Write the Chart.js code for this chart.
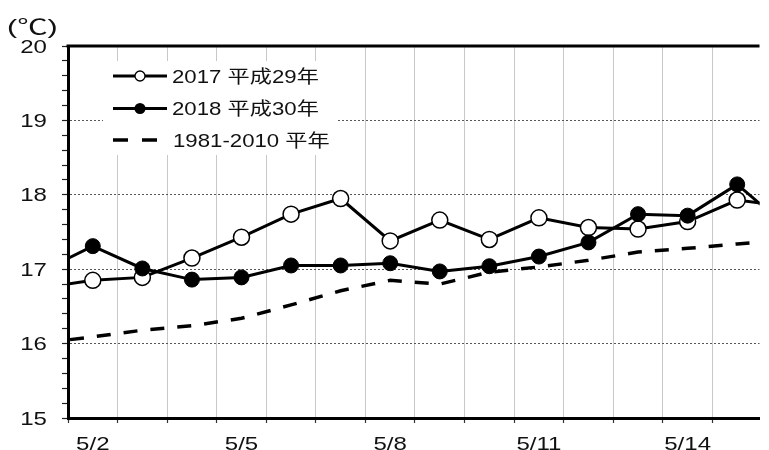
<!DOCTYPE html>
<html lang="ja">
<head>
<meta charset="UTF-8">
<title>日平均気温 5月</title>
<script src="https://cdn.jsdelivr.net/npm/chart.js"></script>
<style>
  html, body { margin: 0; padding: 0; background: #fff; }
  #wrap { position: relative; width: 769px; height: 450px; }
</style>
</head>
<body>
<div id="wrap"><canvas id="tempChart"></canvas></div>
<script>
// data (day of May)
const days = [1, 2, 3, 4, 5, 6, 7, 8, 9, 10, 11, 12, 13, 14, 15, 16];
const t2017 = [16.75, 16.85, 16.89, 17.15, 17.43, 17.74, 17.95, 17.38, 17.66, 17.40, 17.69, 17.56, 17.54, 17.64, 17.93, 17.84];
const t2018 = [16.98, 17.31, 17.01, 16.86, 16.89, 17.05, 17.05, 17.08, 16.97, 17.04, 17.17, 17.36, 17.74, 17.72, 18.14, 17.57];
const tNormal = [16.01, 16.09, 16.18, 16.24, 16.34, 16.52, 16.71, 16.85, 16.80, 16.96, 17.03, 17.12, 17.23, 17.28, 17.34, 17.39];
const xLabelDays = [2, 5, 8, 11, 14];
const yLabels = [15, 16, 17, 18, 19, 20];
const legendNames = ['2017 平成29年', '2018 平成30年', '1981-2010 平年'];
const unitLabel = '(℃)';

const FONT = "'Liberation Sans', Arial, 'Noto Sans CJK JP', sans-serif";

function toPoints(vals) {
    return days.map((d, i) => ({ x: d, y: vals[i] }));
}

// the original text is drawn wide, so stretch it sideways
function wideText(ctx, text, x, y, align, sx) {
    ctx.save();
    ctx.translate(x, y);
    ctx.scale(sx, 1);
    ctx.textAlign = align;
    ctx.textBaseline = 'alphabetic';
    ctx.fillText(text, 0, 0);
    ctx.restore();
}

const textPlugin = {
    id: 'textPlugin',
    afterDraw(chart) {
        const ctx = chart.ctx;
        const { left, right, top } = chart.chartArea;
        const xs = chart.scales.x, ys = chart.scales.y;

        // top frame line
        ctx.save();
        ctx.strokeStyle = '#000';
        ctx.lineWidth = 3;
        ctx.beginPath();
        ctx.moveTo(left - 1.5, top);
        ctx.lineTo(right, top);
        ctx.stroke();

        // axis labels
        ctx.fillStyle = '#111';
        ctx.font = '18.5px ' + FONT;
        yLabels.forEach(v => wideText(ctx, String(v), 47, ys.getPixelForValue(v) + 6.6, 'right', 1.3));
        xLabelDays.forEach(d => wideText(ctx, '5/' + d, xs.getPixelForValue(d), 449.5, 'center', 1.3));
        ctx.font = '21px ' + FONT;
        wideText(ctx, unitLabel, 7, 34, 'left', 1.45);

        // legend
        ctx.fillStyle = '#fff';
        ctx.fillRect(103, 61, 235, 94);
        const rows = [76, 108.5, 140];
        ctx.strokeStyle = '#000';
        ctx.lineWidth = 3;
        for (let i = 0; i < 2; i++) {
            ctx.beginPath();
            ctx.moveTo(113, rows[i]);
            ctx.lineTo(167, rows[i]);
            ctx.stroke();
        }
        ctx.lineWidth = 1.3;
        ctx.beginPath();
        ctx.arc(140, rows[0], 5, 0, Math.PI * 2);
        ctx.fillStyle = '#fff';
        ctx.fill();
        ctx.stroke();
        ctx.beginPath();
        ctx.arc(140, rows[1], 5.5, 0, Math.PI * 2);
        ctx.fillStyle = '#000';
        ctx.fill();
        ctx.lineWidth = 3.5;
        ctx.setLineDash([15, 14]);
        ctx.beginPath();
        ctx.moveTo(113, rows[2]);
        ctx.lineTo(158, rows[2]);
        ctx.stroke();
        ctx.setLineDash([]);

        ctx.fillStyle = '#111';
        ctx.font = '18.5px ' + FONT;
        wideText(ctx, legendNames[0], 172, 83, 'left', 1.2);
        wideText(ctx, legendNames[1], 172, 115, 'left', 1.2);
        wideText(ctx, legendNames[2], 173, 147, 'left', 1.2);
        ctx.restore();
    }
};

const isInt = v => Math.abs(v - Math.round(v)) < 1e-6;

new Chart(document.getElementById('tempChart'), {
    type: 'line',
    data: {
        datasets: [
            {
                label: legendNames[0], data: toPoints(t2017), order: 1, clip: 0,
                borderColor: '#000', borderWidth: 3, tension: 0,
                pointRadius: 8, pointBackgroundColor: '#fff', pointBorderColor: '#000', pointBorderWidth: 1.5
            },
            {
                label: legendNames[1], data: toPoints(t2018), order: 0, clip: 0,
                borderColor: '#000', borderWidth: 3, tension: 0,
                pointRadius: 7.5, pointBackgroundColor: '#000', pointBorderColor: '#000', pointBorderWidth: 1
            },
            {
                label: legendNames[2], data: toPoints(tNormal), order: 2, clip: 0,
                borderColor: '#000', borderWidth: 3.5, borderDash: [14, 13], tension: 0,
                pointRadius: 0
            }
        ]
    },
    options: {
        responsive: true,
        maintainAspectRatio: false,
        animation: false,
        layout: { padding: { top: 46, left: 0, right: 0, bottom: 0 } },
        plugins: { legend: { display: false }, tooltip: { enabled: false } },
        scales: {
            x: {
                type: 'linear', min: 1.5, max: 15.45,
                afterBuildTicks: s => {
                    const t = [];
                    for (let v = 1.5; v <= 15.45; v += 1) t.push({ value: v });
                    s.ticks = t;
                },
                afterFit: s => { s.height = 32; },
                ticks: { display: false },
                grid: { color: '#c8c8c8', lineWidth: 1, tickLength: 5, tickColor: '#333', tickWidth: 1.2 },
                border: { color: '#000', width: 3 }
            },
            y: {
                min: 15, max: 20,
                afterBuildTicks: s => {
                    const t = [];
                    for (let i = 0; i <= 25; i++) t.push({ value: Math.round((15 + i * 0.2) * 10) / 10 });
                    s.ticks = t;
                },
                afterFit: s => { s.width = 68; },
                ticks: { display: false },
                grid: {
                    color: c => (c.tick && isInt(c.tick.value) && c.tick.value > 15 && c.tick.value < 20) ? '#555' : 'rgba(0,0,0,0)',
                    lineWidth: 1, tickLength: 6, tickColor: '#222', tickWidth: 1.2
                },
                border: { color: '#000', width: 3, dash: [2, 2] }
            }
        }
    },
    plugins: [textPlugin]
});
</script>
</body>
</html>
